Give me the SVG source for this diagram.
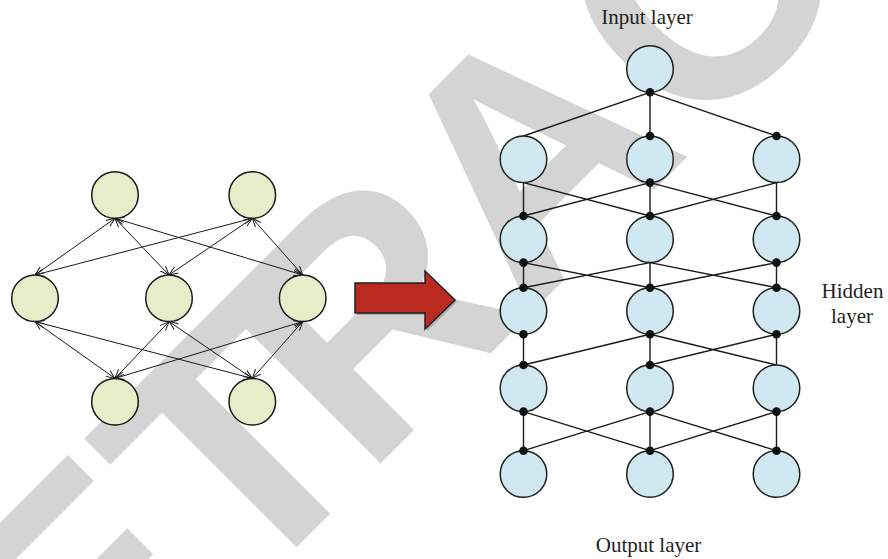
<svg xmlns="http://www.w3.org/2000/svg" width="888" height="559" viewBox="0 0 888 559">
<style>
.wm{font-family:"Liberation Sans",Arial,sans-serif;font-weight:bold;font-size:330px;fill:#d4d4d4}
.gn{fill:#e5eec9;stroke:#1a1a1a;stroke-width:1.5}
.bn{fill:#cfe8f1;stroke:#1f1f1f;stroke-width:1.5}
.ge{stroke:#1a1a1a;stroke-width:1;fill:none;marker-start:url(#ah);marker-end:url(#ah)}
.be{stroke:#1a1a1a;stroke-width:1.4;fill:none}
.dot{fill:#111}
.lbl{font-family:"Liberation Serif","Times New Roman",serif;font-size:21px;fill:#231f20;text-anchor:middle}
</style>
<defs>
<marker id="ah" viewBox="0 0 10 10" refX="10" refY="5" markerWidth="9" markerHeight="9" markerUnits="userSpaceOnUse" orient="auto-start-reverse">
<path d="M0,1 L10,5 L0,9" fill="none" stroke="#1a1a1a" stroke-width="1.1"/>
</marker>
</defs>
<rect width="888" height="559" fill="#fff"/>
<g id="watermark">
<text class="wm" transform="translate(-82,926) rotate(-45)" dx="0 0 0 -28 -12 0">RETRACTED</text>
</g>
<g id="connectors">
<g id="left-edges">
<line class="ge" x1="115" y1="218.3" x2="35" y2="275"/>
<line class="ge" x1="115" y1="218.3" x2="169" y2="275"/>
<line class="ge" x1="115" y1="218.3" x2="302.7" y2="275"/>
<line class="ge" x1="252.3" y1="218.3" x2="35" y2="275"/>
<line class="ge" x1="252.3" y1="218.3" x2="169" y2="275"/>
<line class="ge" x1="252.3" y1="218.3" x2="302.7" y2="275"/>
<line class="ge" x1="115" y1="378.4" x2="35" y2="321.6"/>
<line class="ge" x1="115" y1="378.4" x2="169" y2="321.6"/>
<line class="ge" x1="115" y1="378.4" x2="302.7" y2="321.6"/>
<line class="ge" x1="252.3" y1="378.4" x2="35" y2="321.6"/>
<line class="ge" x1="252.3" y1="378.4" x2="169" y2="321.6"/>
<line class="ge" x1="252.3" y1="378.4" x2="302.7" y2="321.6"/>
</g>
<g id="right-edges">
<path class="be" d="M650,92.3 L523.5,136 M650,92.3 L650,136 M650,92.3 L776.5,136"/>
<path class="be" d="M523.5,182.6 L523.5,216 M523.5,182.6 L650,216 M650,182.6 L523.5,216 M650,182.6 L650,216 M650,182.6 L776.5,216 M776.5,182.6 L650,216 M776.5,182.6 L776.5,216"/>
<path class="be" d="M523.5,262.6 L523.5,287.7 M523.5,262.6 L650,287.7 M650,262.6 L523.5,287.7 M650,262.6 L650,287.7 M650,262.6 L776.5,287.7 M776.5,262.6 L650,287.7 M776.5,262.6 L776.5,287.7"/>
<path class="be" d="M523.5,334.3 L523.5,365 M650,334.3 L523.5,365 M650,334.3 L650,365 M650,334.3 L776.5,365 M776.5,334.3 L650,365 M776.5,334.3 L776.5,365"/>
<path class="be" d="M523.5,411.6 L523.5,450.7 M523.5,411.6 L650,450.7 M650,411.6 L523.5,450.7 M650,411.6 L650,450.7 M650,411.6 L776.5,450.7 M776.5,411.6 L650,450.7 M776.5,411.6 L776.5,450.7"/>
</g>
</g>
<g id="left-nodes">
<g id="l-t1"><circle class="gn" cx="115" cy="195" r="23.3"/></g>
<g id="l-t2"><circle class="gn" cx="252.3" cy="195" r="23.3"/></g>
<g id="l-m1"><circle class="gn" cx="35" cy="298.3" r="23.3"/></g>
<g id="l-m2"><circle class="gn" cx="169" cy="298.3" r="23.3"/></g>
<g id="l-m3"><circle class="gn" cx="302.7" cy="298.3" r="23.3"/></g>
<g id="l-b1"><circle class="gn" cx="115" cy="401.7" r="23.3"/></g>
<g id="l-b2"><circle class="gn" cx="252.3" cy="401.7" r="23.3"/></g>
</g>
<g id="transform-arrow">
<polygon points="357,285 427,285 427,273 457,302 427,331 427,315 357,315" fill="#555" opacity="0.35"/>
<polygon points="355,283 425,283 425,271 455,300 425,329 425,313 355,313" fill="#bb2a1e" stroke="#222" stroke-width="1.5" stroke-linejoin="miter"/>
</g>
<g id="right-nodes">
<g id="input"><circle class="bn" cx="650" cy="69" r="23.3"/></g>
<g id="h1-1"><circle class="bn" cx="523.5" cy="159.3" r="23.3"/></g>
<g id="h1-2"><circle class="bn" cx="650" cy="159.3" r="23.3"/></g>
<g id="h1-3"><circle class="bn" cx="776.5" cy="159.3" r="23.3"/></g>
<g id="h2-1"><circle class="bn" cx="523.5" cy="239.3" r="23.3"/></g>
<g id="h2-2"><circle class="bn" cx="650" cy="239.3" r="23.3"/></g>
<g id="h2-3"><circle class="bn" cx="776.5" cy="239.3" r="23.3"/></g>
<g id="h3-1"><circle class="bn" cx="523.5" cy="311" r="23.3"/></g>
<g id="h3-2"><circle class="bn" cx="650" cy="311" r="23.3"/></g>
<g id="h3-3"><circle class="bn" cx="776.5" cy="311" r="23.3"/></g>
<g id="h4-1"><circle class="bn" cx="523.5" cy="388.3" r="23.3"/></g>
<g id="h4-2"><circle class="bn" cx="650" cy="388.3" r="23.3"/></g>
<g id="h4-3"><circle class="bn" cx="776.5" cy="388.3" r="23.3"/></g>
<g id="out-1"><circle class="bn" cx="523.5" cy="474" r="23.3"/></g>
<g id="out-2"><circle class="bn" cx="650" cy="474" r="23.3"/></g>
<g id="out-3"><circle class="bn" cx="776.5" cy="474" r="23.3"/></g>
</g>
<g id="junctions">
<circle class="dot" cx="650" cy="92.3" r="4.3"/>
<circle class="dot" cx="650" cy="136" r="4.3"/>
<circle class="dot" cx="776.5" cy="136" r="4.3"/>
<circle class="dot" cx="650" cy="182.6" r="4.3"/>
<circle class="dot" cx="523.5" cy="216" r="4.3"/>
<circle class="dot" cx="650" cy="216" r="4.3"/>
<circle class="dot" cx="776.5" cy="216" r="4.3"/>
<circle class="dot" cx="523.5" cy="262.6" r="4.3"/>
<circle class="dot" cx="776.5" cy="262.6" r="4.3"/>
<circle class="dot" cx="523.5" cy="287.7" r="4.3"/>
<circle class="dot" cx="650" cy="287.7" r="4.3"/>
<circle class="dot" cx="776.5" cy="287.7" r="4.3"/>
<circle class="dot" cx="523.5" cy="334.3" r="4.3"/>
<circle class="dot" cx="650" cy="334.3" r="4.3"/>
<circle class="dot" cx="776.5" cy="334.3" r="4.3"/>
<circle class="dot" cx="523.5" cy="365" r="4.3"/>
<circle class="dot" cx="650" cy="365" r="4.3"/>
<circle class="dot" cx="523.5" cy="411.6" r="4.3"/>
<circle class="dot" cx="650" cy="411.6" r="4.3"/>
<circle class="dot" cx="776.5" cy="411.6" r="4.3"/>
<circle class="dot" cx="523.5" cy="450.7" r="4.3"/>
<circle class="dot" cx="650" cy="450.7" r="4.3"/>
<circle class="dot" cx="776.5" cy="450.7" r="4.3"/>
</g>
<g id="labels">
<text class="lbl" x="647" y="24">Input layer</text>
<text class="lbl" x="852.5" y="298.3">Hidden</text>
<text class="lbl" x="852" y="323.3">layer</text>
<text class="lbl" x="648.5" y="552">Output layer</text>
</g>
</svg>
